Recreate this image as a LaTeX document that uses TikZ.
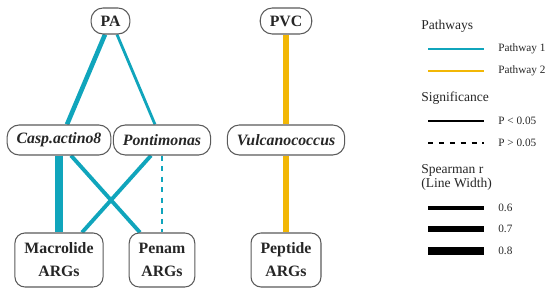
\documentclass[tikz,border=0pt]{standalone}
\usepackage{fontspec}
\setmainfont{Liberation Serif}[BoldFont={* Bold}, ItalicFont={* Italic}, BoldItalicFont={* Bold Italic}]
\usepackage{tikz}
\usetikzlibrary{backgrounds}

\definecolor{pathone}{RGB}{16,165,188}
\definecolor{pathtwo}{RGB}{242,183,5}
\definecolor{boxline}{RGB}{90,90,90}

\tikzset{
    taxon/.style={draw=boxline, line width=0.6pt, fill=white, rounded corners=0.24cm,
        inner xsep=0.19cm, inner ysep=0pt, text=black!85, font=\fontsize{9}{11}\selectfont\bfseries},
    toplevel/.style={taxon, minimum height=0.52cm},
    genus/.style={taxon, minimum height=0.6cm, font=\fontsize{9}{11}\selectfont\bfseries\itshape},
    argbox/.style={taxon, rounded corners=0.2cm, minimum height=1.08cm, align=center,
        font=\fontsize{9}{13}\selectfont\bfseries},
    header/.style={anchor=west, inner sep=0pt, font=\fontsize{7.7}{8}\selectfont, text=black!85},
    entry/.style={anchor=west, inner sep=0pt, font=\fontsize{6.4}{7}\selectfont, text=black!85},
    linkone/.style={draw=pathone},
    linktwo/.style={draw=pathtwo}
}

\begin{document}
\begin{tikzpicture}
    \useasboundingbox (0,0) rectangle (11,5.84);

    % pathway nodes
    \node[toplevel] (PA) at (2.21,5.42) {PA};
    \node[toplevel] (PVC) at (5.72,5.42) {PVC};

    % genus nodes
    \node[genus] (casp) at (1.18,3.04) {Casp.actino8};
    \node[genus] (pont) at (3.24,3.04) {Pontimonas};
    \node[genus] (vulc) at (5.72,3.04) {Vulcanococcus};

    % resistance gene nodes
    \node[argbox] (macro) at (1.18,0.64) {Macrolide\\ARGs};
    \node[argbox] (penam) at (3.24,0.64) {Penam\\ARGs};
    \node[argbox] (pept) at (5.72,0.64) {Peptide\\ARGs};

    % links
    \begin{scope}[on background layer]
        \draw [linkone, line width=2.6pt] ([xshift=-0.11cm]PA.south) -- ([xshift=0.16cm]casp.north);
        \draw [linkone, line width=1.6pt] ([xshift=0.13cm]PA.south) -- ([xshift=-0.14cm]pont.north);
        \draw [linkone, line width=4.8pt] (casp.south) -- (macro.north);
        \draw [linkone, line width=2.2pt] ([xshift=0.24cm]casp.south) -- ([xshift=-0.44cm]penam.north);
        \draw [linkone, line width=2.2pt] ([xshift=-0.22cm]pont.south) -- ([xshift=0.46cm]macro.north);
        \draw [linkone, line width=1.1pt, dash pattern=on 3pt off 3pt] (pont.south) -- (penam.north);
        \draw [linktwo, line width=3.4pt] (PVC.south) -- (vulc.north);
        \draw [linktwo, line width=3pt] (vulc.south) -- (pept.north);
    \end{scope}

    % legend
    \node[header] (hpath) at (8.42,5.32) {Pathways};
    \node[entry] (lone) at (9.96,4.86) {Pathway 1};
    \node[entry] (ltwo) at (9.96,4.42) {Pathway 2};
    \node[header] (hsig) at (8.42,3.88) {Significance};
    \node[entry] (lsig) at (9.96,3.42) {P < 0.05};
    \node[entry] (lnsig) at (9.96,2.98) {P > 0.05};
    \node[header, align=left, font=\fontsize{7.7}{8}\selectfont] (hrho) at (8.42,2.30) {Spearman r\\(Line Width)};
    \node[entry] (lsix) at (9.96,1.68) {0.6};
    \node[entry] (lseven) at (9.96,1.26) {0.7};
    \node[entry] (leight) at (9.96,0.82) {0.8};

    \coordinate (sone) at (8.56,4.86);
    \coordinate (stwo) at (8.56,4.42);
    \coordinate (ssig) at (8.56,3.42);
    \coordinate (snsig) at (8.56,2.98);
    \coordinate (ssix) at (8.56,1.68);
    \coordinate (sseven) at (8.56,1.26);
    \coordinate (seight) at (8.56,0.82);

    \draw [linkone, line width=0.8pt] (sone) -- ([xshift=-0.28cm]lone.west);
    \draw [linktwo, line width=0.8pt] (stwo) -- ([xshift=-0.28cm]ltwo.west);
    \draw [black, line width=0.8pt] (ssig) -- ([xshift=-0.28cm]lsig.west);
    \draw [black, line width=0.8pt, dash pattern=on 3pt off 3.2pt] (snsig) -- ([xshift=-0.28cm]lnsig.west);
    \draw [black, line width=2.3pt] (ssix) -- ([xshift=-0.28cm]lsix.west);
    \draw [black, line width=3.4pt] (sseven) -- ([xshift=-0.28cm]lseven.west);
    \draw [black, line width=4.6pt] (seight) -- ([xshift=-0.28cm]leight.west);
\end{tikzpicture}
\end{document}
